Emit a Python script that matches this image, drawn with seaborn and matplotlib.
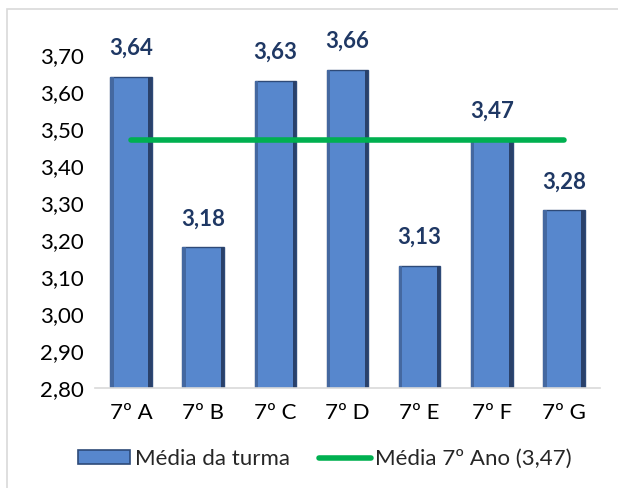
import pandas as pd
import seaborn as sns
import matplotlib.pyplot as plt
from matplotlib.patches import Rectangle
from matplotlib.lines import Line2D

turmas = ["7º A", "7º B", "7º C", "7º D", "7º E", "7º F", "7º G"]
medias = [3.64, 3.18, 3.63, 3.66, 3.13, 3.47, 3.28]
media_ano = 3.47
yticks = [2.80, 2.90, 3.00, 3.10, 3.20, 3.30, 3.40, 3.50, 3.60, 3.70]

sns.set_style("white")
plt.rcParams["font.family"] = ["Lato", "DejaVu Sans"]
fs = 16

df = pd.DataFrame({"turma": turmas, "media": medias})

fig = plt.figure(figsize=(6.18, 4.88), dpi=100)
ax = fig.add_axes([95 / 618, 1 - 388 / 488, 505 / 618, 333 / 488])

sns.barplot(x="turma", y="media", data=df, color="#5787CD", saturation=1,
            width=0.575, edgecolor="#2E4A78", linewidth=1.0, ax=ax)

# fake bevel: darker strips on the sides of each bar
for p in ax.containers[0]:
    x, w, y0, h = p.get_x(), p.get_width(), p.get_y(), p.get_height()
    ax.add_patch(Rectangle((x, y0), w * 0.08, h, color="#4468A0", lw=0, zorder=2.5))
    ax.add_patch(Rectangle((x + w * 0.92, y0), w * 0.08, h, color="#2A416A", lw=0, zorder=2.5))

# green line for the overall year average, from first to last bar centre
ax.plot([0, len(turmas) - 1], [media_ano, media_ano], color="#00B050",
        lw=4, solid_capstyle="round", zorder=3)

ax.set_ylim(2.80, 3.70)
ax.set_xlim(-0.5, len(turmas) - 0.5)
ax.set_yticks(yticks)
ax.set_yticklabels(["{:.2f}".format(v).replace(".", ",") for v in yticks])
ax.set_xlabel("")
ax.set_ylabel("")
ax.tick_params(axis="y", length=0, pad=8, labelsize=fs, colors="black")
ax.tick_params(axis="x", length=0, pad=11, labelsize=fs, colors="black")

for s in ["top", "right", "left"]:
    ax.spines[s].set_visible(False)
ax.spines["bottom"].set_color("#D9D9D9")
ax.spines["bottom"].set_linewidth(1.2)

ax.bar_label(ax.containers[0],
             labels=["{:.2f}".format(v).replace(".", ",") for v in medias],
             padding=13, fontsize=fs, fontweight="bold", color="#1F3864",
             clip_on=False)

handles = [
    Rectangle((0, 0), 1, 1, facecolor="#5787CD", edgecolor="#2E4A78", lw=1.2),
    Line2D([0], [0], color="#00B050", lw=4, solid_capstyle="round"),
]
fig.legend(handles, ["Média da turma", "Média 7º Ano (3,47)"],
           loc="center", bbox_to_anchor=(325 / 618, 1 - 459 / 488), ncol=2,
           frameon=False, fontsize=fs, handlelength=2.35, handleheight=0.6,
           handletextpad=0.2, columnspacing=1.3, borderpad=0)

# light chart border
fig.patches.append(Rectangle((7 / 618, -0.1), 1.2, 1 - 9 / 488 + 0.1,
                             transform=fig.transFigure, fill=False,
                             edgecolor="#D9D9D9", lw=1.2))

fig.savefig("out.png", dpi=100)
